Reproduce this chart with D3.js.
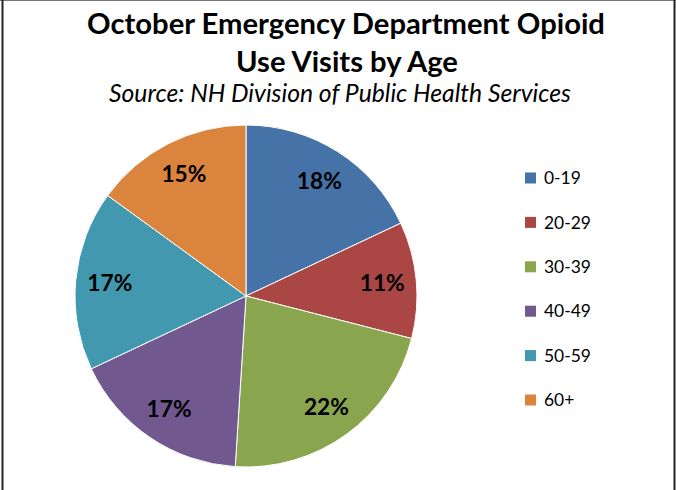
<!DOCTYPE html>
<html><head><meta charset="utf-8">
<script src="https://cdn.jsdelivr.net/npm/d3@7"></script>
<style>html,body{margin:0;padding:0;background:#fff;}svg{display:block;}</style>
</head><body>
<script>
const categories = ["0-19","20-29","30-39","40-49","50-59","60+"];
const values = [18, 11, 22, 17, 17, 15];
const colors = ["#4572A7","#AA4643","#89A54E","#71588F","#4198AF","#DB843D"];
const titleLines = ["October Emergency Department Opioid","Use Visits by Age"];
const subtitle = "Source: NH Division of Public Health Services";

const W = 676, H = 490;
const svg = d3.select("body").append("svg").attr("width", W).attr("height", H);
svg.append("rect").attr("width", W).attr("height", H).attr("fill", "#fff");
// frame
svg.append("line").attr("x1",0).attr("x2",W).attr("y1",0.5).attr("y2",0.5).attr("stroke","#777").attr("stroke-width",1);
svg.append("line").attr("x1",2.5).attr("x2",2.5).attr("y1",0).attr("y2",H).attr("stroke","#222").attr("stroke-width",2);
svg.append("line").attr("x1",674.5).attr("x2",674.5).attr("y1",0).attr("y2",H).attr("stroke","#222").attr("stroke-width",2);

const font = "Lato, 'Open Sans', 'DejaVu Sans', sans-serif";
function fitText(sel, target) {
  const w = sel.node().getComputedTextLength();
  const fs = parseFloat(sel.attr("font-size"));
  const nfs = fs * target / w;
  sel.attr("font-size", nfs);
  return nfs;
}
const t1 = svg.append("text").attr("x", 346).attr("y", 34).attr("text-anchor","middle")
  .attr("font-family", font).attr("font-weight","bold").attr("font-size", 24).attr("fill","#000").text(titleLines[0]);
fitText(t1, 518);
const t2 = svg.append("text").attr("x", 347).attr("y", 72).attr("text-anchor","middle")
  .attr("font-family", font).attr("font-weight","bold").attr("font-size", 24).attr("fill","#000").text(titleLines[1]);
fitText(t2, 222);
const t3 = svg.append("text").attr("x", 340).attr("y", 102).attr("text-anchor","middle")
  .attr("font-family", font).attr("font-style","italic").attr("font-size", 18).attr("fill","#000").text(subtitle);
fitText(t3, 462);

const cx = 246, cy = 296, R = 171;
const pie = d3.pie().sort(null).value(d => d)(values);
const arc = d3.arc().innerRadius(0).outerRadius(R);
const labelArc = d3.arc().innerRadius(R*0.6).outerRadius(R);
const g = svg.append("g").attr("transform", `translate(${cx},${cy})`);
g.selectAll("path").data(pie).join("path")
  .attr("d", arc).attr("fill", (d,i) => colors[i])
  .attr("stroke", "#fff").attr("stroke-width", 1);
const labels = g.selectAll("text").data(pie).join("text")
  .attr("transform", d => `translate(${labelArc.centroid(d)})`)
  .attr("text-anchor","middle").attr("dy","0.36em")
  .attr("font-family", font).attr("font-weight","bold").attr("font-size", 20).attr("fill","#000")
  .text(d => d.value + "%");
{
  const w = labels.nodes()[0].getComputedTextLength();
  labels.attr("font-size", 20 * 45 / w);
}

const leg = svg.append("g");
const ly = d3.scalePoint().domain(categories).range([178, 400]);
leg.selectAll("rect").data(categories).join("rect")
  .attr("x", 525).attr("y", d => ly(d) - 5.5).attr("width", 11).attr("height", 11)
  .attr("fill", (d,i) => colors[i]);
const lt = leg.selectAll("text").data(categories).join("text")
  .attr("x", 544).attr("y", d => ly(d)).attr("dy","0.36em")
  .attr("font-family", font).attr("font-size", 19).attr("fill","#000").text(d => d);
{
  const w = lt.nodes()[1].getComputedTextLength();
  lt.attr("font-size", 19 * 47 / w);
}
</script>
</body></html>
